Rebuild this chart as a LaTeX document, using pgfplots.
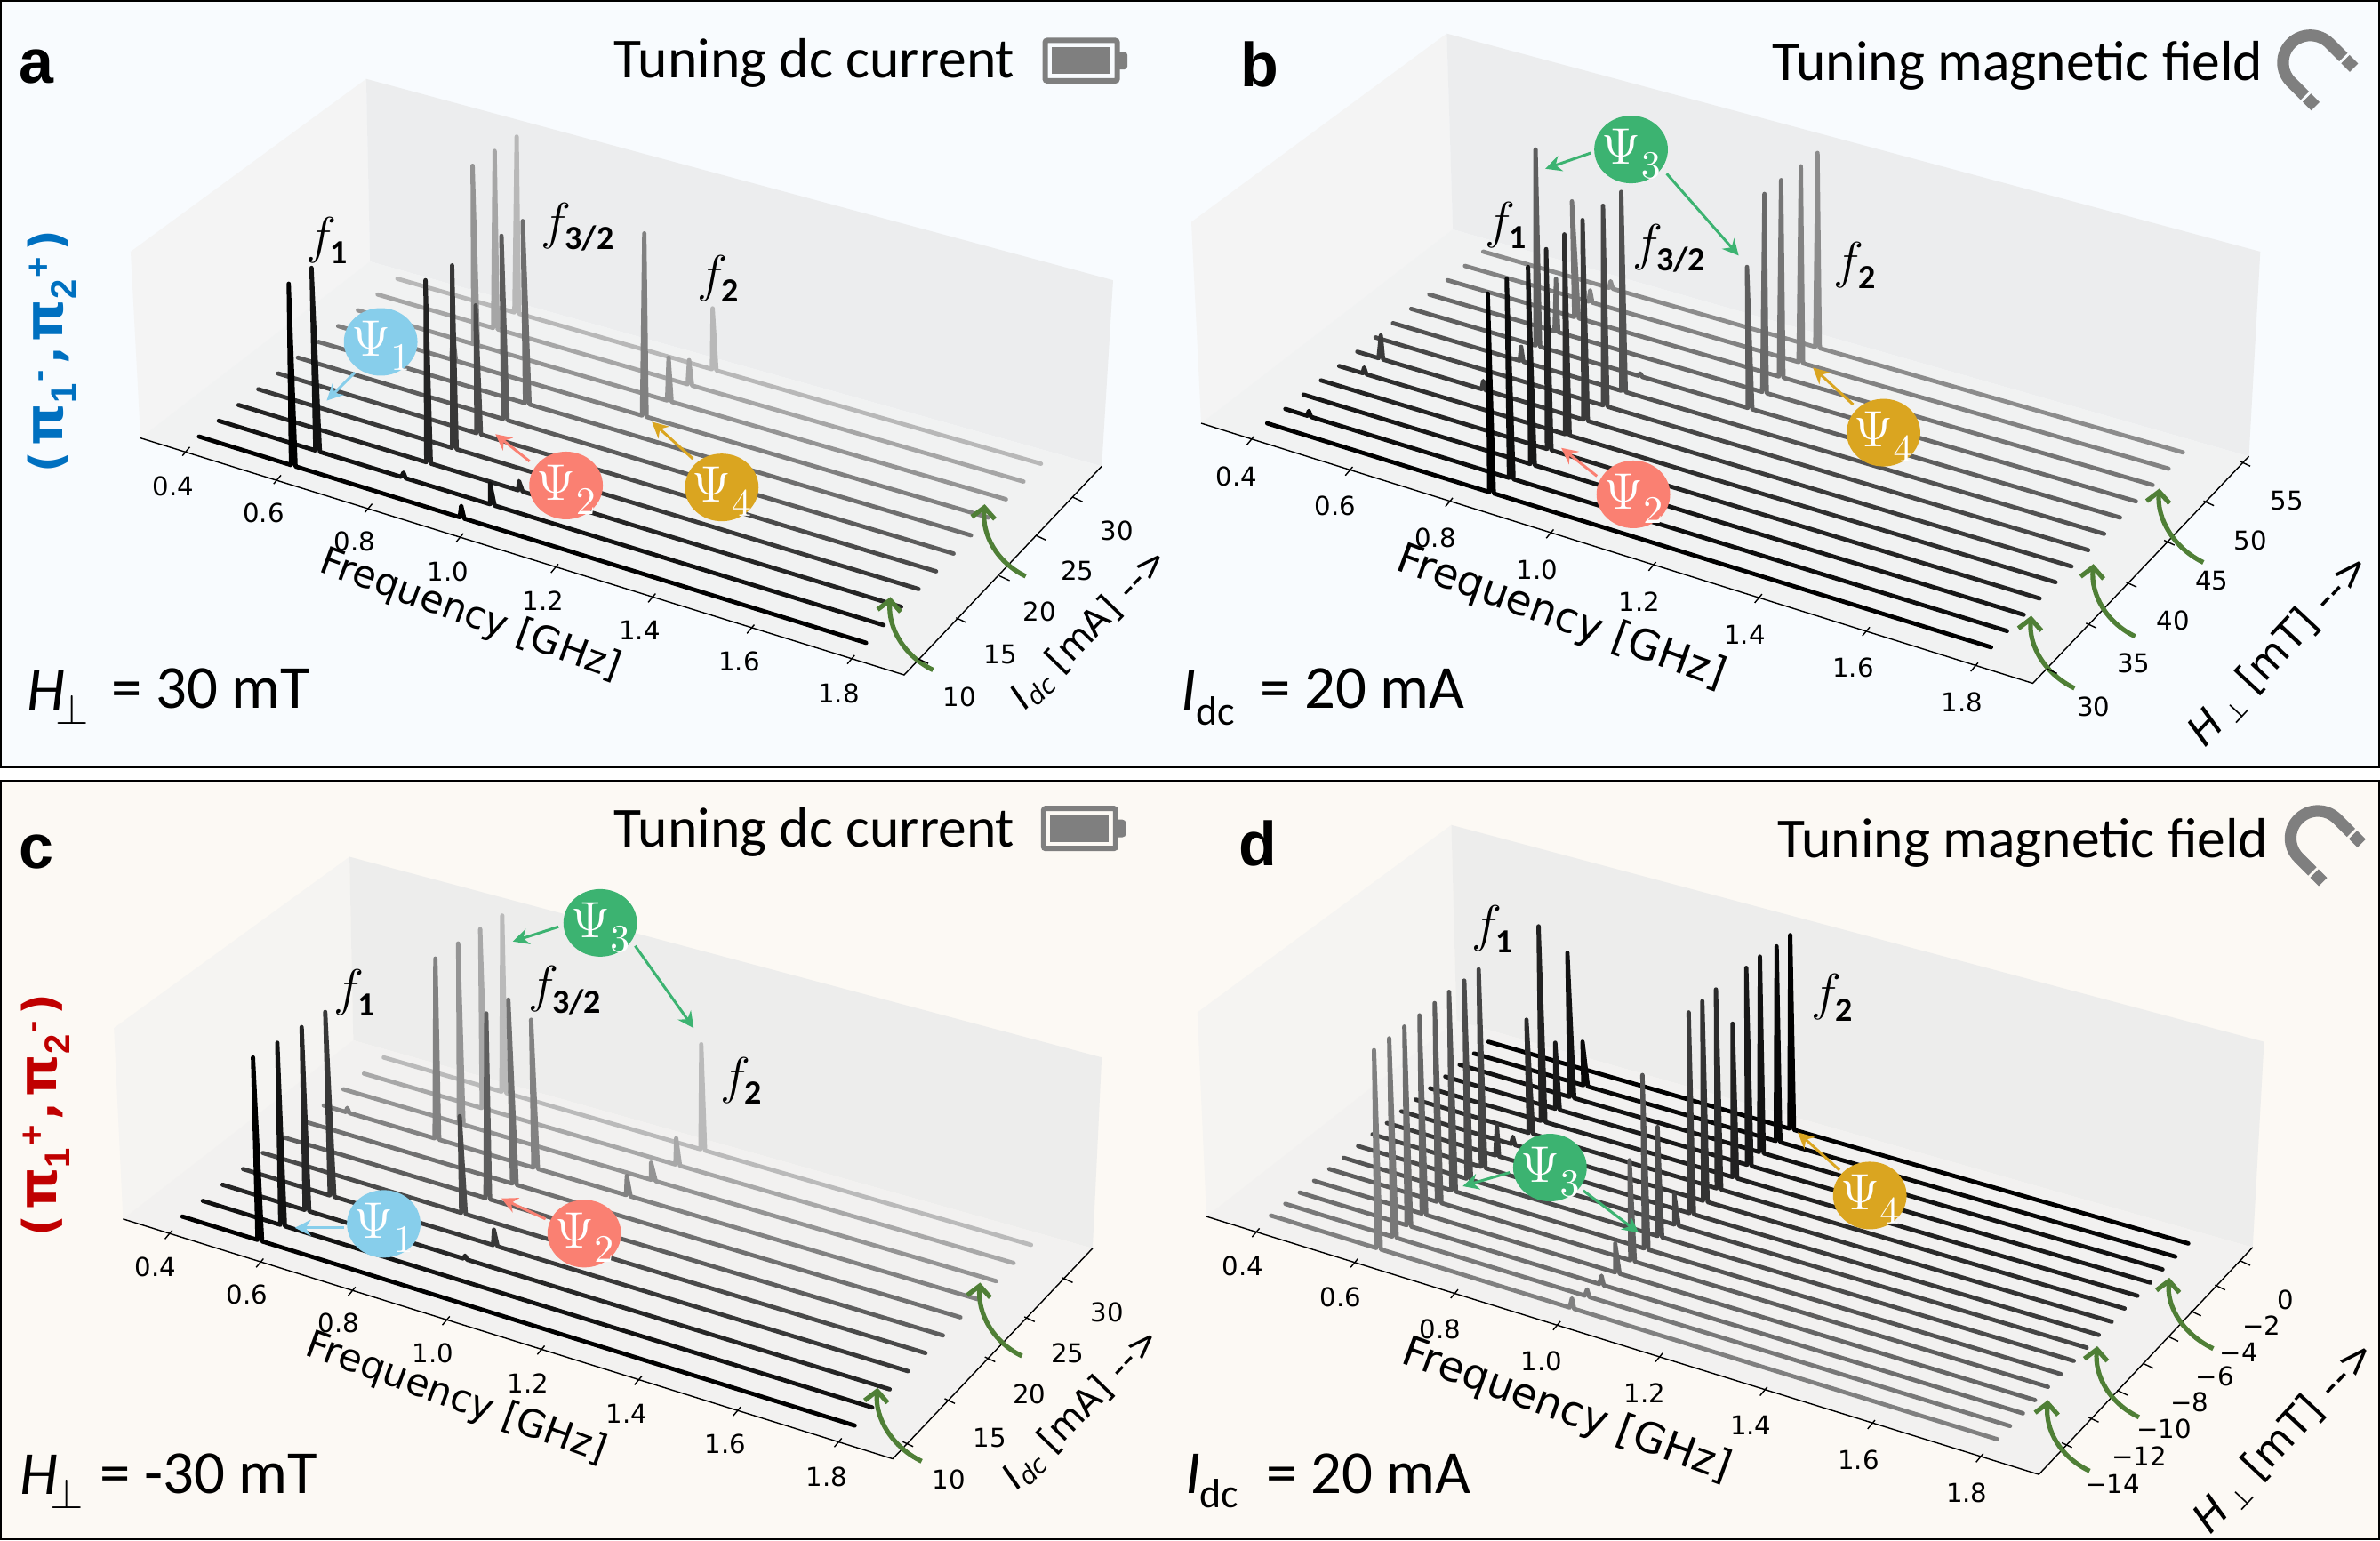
\documentclass[border=0pt]{standalone}
\usepackage{fontspec}
\usepackage{pgfplots}
\pgfplotsset{compat=1.18}
\usetikzlibrary{arrows.meta,shapes.geometric}
\setmainfont{Carlito}
\newfontfamily\dvs{DejaVu Sans}
\newfontfamily\lib{Liberation Sans}

\definecolor{topbg}{HTML}{F8FBFE}
\definecolor{botbg}{HTML}{FCF9F4}
\definecolor{skyb}{HTML}{87CEEB}
\definecolor{salm}{HTML}{FA8072}
\definecolor{seag}{HTML}{3CB371}
\definecolor{gold}{HTML}{DAA520}
\definecolor{leaf}{HTML}{4F7F36}
\definecolor{icon}{HTML}{7F7F7F}
\definecolor{sideb}{HTML}{0070C0}
\definecolor{sider}{HTML}{C00000}
\definecolor{wallL}{HTML}{F4F4F4}
\definecolor{wallB}{HTML}{ECEDEE}
\definecolor{wallF}{HTML}{F1F2F2}
\definecolor{wallLc}{HTML}{F5F4F2}
\definecolor{wallBc}{HTML}{EDEDEC}
\definecolor{wallFc}{HTML}{F2F1F0}

% each trace is a straight baseline on the floor; y=0 in a table row means "on the baseline"
\newcommand\base[4]{\def\xa{#1}\def\ya{#2}\def\xb{#3}\def\yb{#4}}
\pgfplotsset{
  table/row sep=\\,
  table/y expr={ifthenelse(\thisrow{y}==0,\ya+(\yb-\ya)*((\thisrow{x}-\xa)/(\xb-\xa)),\thisrow{y})},
  tr/.style={no markers,line width=1.2pt,line join=round,line cap=round,color=black!#1},
  pane/.style={draw=none,fill=#1,no markers},
  edge/.style={black,line width=.35pt,no markers},
  xtk/.style={only marks,mark=-,mark size=1.6pt,mark options={rotate=50,line width=.35pt,black}},
  ytk/.style={only marks,mark=-,mark size=1.6pt,mark options={rotate=-25,line width=.35pt,black}},
  quad/.style={hide axis,scale only axis,clip=false,anchor=south west,
    xmin=0,xmax=1568,ymin=0,ymax=1568,y dir=reverse},
}
\newcommand\tkf{\dvs\fontsize{7.3}{8}\selectfont}
\newcommand\tl[3]{\node[font=\tkf,inner sep=0] at (axis cs:#1,#2) {#3};}
\newcommand\arr[5]{\draw[-{Stealth[length=4.5pt,width=4.5pt]},line width=.75pt,#1] (axis cs:#2,#3) -- (axis cs:#4,#5);}
\newcommand\garr[4]{\draw[-{Straight Barb[length=3pt,width=6.5pt]},line width=1.3pt,leaf]
  (axis cs:#1,#2) .. controls (axis cs:#1-38,#2-28) and (axis cs:#3-4,#4+62) .. (axis cs:#3,#4);}
\newcommand\psib[4]{\node[ellipse,fill=#3,minimum width=20.7pt,minimum height=19pt,inner sep=0] at (axis cs:#1,#2) {};
  \node[text=white,inner sep=0] at (axis cs:#1-13,#2-6) {\fontsize{14.4}{16}\selectfont$\Psi$};
  \node[text=white,inner sep=0] at (axis cs:#1+26,#2+33) {\fontsize{10.95}{12}\selectfont$#4$};}
\newcommand\ffl[3]{\node[inner sep=0] at (axis cs:#1,#2) {\fontsize{14.4}{16}\selectfont$f$\kern-.12em\raisebox{-.45ex}{\fontsize{9.5}{10}\selectfont\bfseries #3}};}
\newcommand\tit[3]{\node[inner sep=0] at (axis cs:#1,#2+8) {\fontsize{15.9}{18}\selectfont #3};}
\newcommand\freq[3]{\node[font=\dvs\fontsize{#3}{12}\selectfont,rotate=-20,inner sep=0] at (axis cs:#1,#2) {Frequency [GHz]};}
\newcommand\idc[2]{\node[font=\dvs\fontsize{10.2}{11}\selectfont,rotate=46,inner sep=0] at (axis cs:#1,#2) {{\itshape I\raisebox{-.3ex}{\scriptsize dc}} [mA] -->};}
\newcommand\hperp[2]{\node[font=\dvs\fontsize{11.5}{12}\selectfont,rotate=47,inner sep=0] at (axis cs:#1,#2) {{\itshape H\,\raisebox{-.3ex}{\scriptsize ⊥}} [mT] -->};}
\newcommand\plab[3]{\node[inner sep=0,font=\lib\bfseries\fontsize{17.5}{19}\selectfont] at (axis cs:#1,#2) {#3};}
\newcommand\batt[2]{\fill[icon,rounded corners=1pt] (axis cs:#1+100,#2+31) rectangle (axis cs:#1+115,#2+67);
  \draw[icon,line width=1.5pt,rounded corners=.6pt] (axis cs:#1+6.5,#2+8) rectangle (axis cs:#1+101.5,#2+90);
  \fill[icon] (axis cs:#1+15,#2+22) rectangle (axis cs:#1+92,#2+76);}
\newcommand\magnet[2]{\begin{scope}[shift={(axis cs:#1,#2)},rotate=-45]
  \draw[icon,line width=3.3pt] (5.5pt,7.67pt) -- (0pt,7.67pt) arc (90:270:7.67pt) -- (5.5pt,-7.67pt);
  \draw[icon,line width=3.3pt] (6.3pt,7.67pt) -- (9.7pt,7.67pt);
  \draw[icon,line width=3.3pt] (6.3pt,-7.67pt) -- (9.7pt,-7.67pt);
  \end{scope}}
% the rotated (pi_1, pi_2) label at the left of the rows
\newcommand\sidepi[2]{{\fontsize{15}{17}\selectfont π}{\lib\fontsize{10}{11}\selectfont\raisebox{-3.6pt}{#1}\kern.6pt\raisebox{3.6pt}{#2}}}
\newcommand\sidelab[4]{\node[rotate=90,inner sep=0,text=#1] at (axis cs:#2,#3) {\dvs\bfseries #4};}

\begin{document}
\begin{tikzpicture}[x=1pt,y=1pt]
\path[use as bounding box] (0,0) rectangle (669.25,433.25);
\fill[topbg,draw=black,line width=.5pt] (.25,217.5) rectangle (669,433);
\fill[botbg,draw=black,line width=.5pt] (.25,.5) rectangle (669,213.75);

% panel a
\begin{axis}[quad,at={(0pt,215.75pt)},width=335pt,height=217.5pt]
\addplot[pane=wallL] coordinates {(172,510)(482,160)(487,530)(185,888)};
\addplot[pane=wallB] coordinates {(482,160)(1465,568)(1450,945)(487,530)};
\addplot[pane=wallF] coordinates {(185,888)(487,530)(1450,945)(1190,1368)};
\addplot[edge] coordinates {(185,888)(1190,1368)(1450,945)};
\addplot[xtk] coordinates {(245,915)(365,972)(485,1030)(605,1090)(730,1152)(858,1212)(988,1275)(1120,1337)};
\addplot[ytk] coordinates {(1215,1340)(1265,1257)(1322,1172)(1370,1090)(1418,1012)};
\base{523}{565}{1370}{940}\addplot[tr=28] table {x y\\523 0\\677 0\\680 277\\683 0\\937 0\\938 625\\943 0\\1370 0\\};
\base{497}{597}{1347}{976}\addplot[tr=35] table {x y\\497 0\\649 0\\651 306\\655 0\\905 0\\907 730\\911 0\\1347 0\\};
\base{471}{629}{1324}{1012}\addplot[tr=42] table {x y\\471 0\\623 0\\622 336\\629 0\\878 0\\880 725\\884 0\\1324 0\\};
\base{445}{661}{1301}{1049}\addplot[tr=50] table {x y\\445 0\\594 0\\596 676\\600 0\\845 0\\848 473\\851 0\\1301 0\\};
\base{419}{693}{1278}{1085}\addplot[tr=57] table {x y\\419 0\\691 0\\688 448\\697 0\\1278 0\\};
\base{392}{725}{1255}{1122}\addplot[tr=64] table {x y\\392 0\\662 0\\660 478\\668 0\\1255 0\\};
\base{366}{757}{1232}{1158}\addplot[tr=71] table {x y\\366 0\\627 0\\626 619\\633 0\\1232 0\\};
\base{340}{789}{1209}{1194}\addplot[tr=78] table {x y\\340 0\\595 0\\595 538\\601 0\\1209 0\\};
\base{314}{821}{1186}{1230}\addplot[tr=86] table {x y\\314 0\\561 0\\560 568\\567 0\\682 0\\683 975\\688 0\\1186 0\\};
\base{288}{853}{1163}{1267}\addplot[tr=93] table {x y\\288 0\\415 0\\410 543\\421 0\\528 0\\531 958\\534 0\\645 0\\645 980\\651 0\\1163 0\\};
\base{262}{885}{1140}{1303}\addplot[tr=100] table {x y\\262 0\\383 0\\380 575\\389 0\\605 0\\607 1025\\611 0\\1140 0\\};
\tl{228}{985}{0.4}\tl{347}{1040}{0.6}\tl{467}{1098}{0.8}\tl{590}{1158}{1.0}\tl{715}{1218}{1.2}\tl{842}{1278}{1.4}\tl{973}{1340}{1.6}\tl{1104}{1405}{1.8}
\tl{1263}{1413}{10}\tl{1317}{1327}{15}\tl{1368}{1240}{20}\tl{1418}{1157}{25}\tl{1470}{1075}{30}
\freq{619}{1248}{10.7}\idc{1435}{1275}
\garr{1228}{1358}{1172}{1210}\garr{1350}{1168}{1296}{1022}
\arr{skyb}{467}{755}{430}{812}\arr{salm}{697}{935}{652}{880}\arr{gold}{912}{930}{858}{855}
\psib{501}{693}{skyb}{1}\psib{745}{984}{salm}{2}\psib{950}{988}{gold}{4}
\ffl{430}{487}{1}\ffl{760}{460}{3/2}\ffl{945}{565}{2}
\plab{48}{135}{a}\tit{1072}{120}{Tuning dc current}\batt{1369}{74}
\node[inner sep=0,anchor=west] at (axis cs:35,1400) {\fontsize{17.2}{18}\selectfont\itshape H};
\node[inner sep=0] at (axis cs:95,1438) {\fontsize{12}{13}\selectfont$\perp$};
\node[inner sep=0,anchor=west] at (axis cs:146,1395) {\fontsize{17.2}{18}\selectfont = 30 mT};
\sidelab{sideb}{68}{712}{\fontsize{13}{15}\selectfont(\kern1.5pt\sidepi{1}{-}\kern1.5pt,\kern1.5pt\sidepi{2}{+}\kern1.5pt)}
\end{axis}

% panel b
\begin{axis}[quad,at={(335pt,215.75pt)},width=334.25pt,height=217.5pt]
\addplot[pane=wallL] coordinates {(0,450)(337,68)(345,465)(13,858)};
\addplot[pane=wallB] coordinates {(337,68)(1410,510)(1395,925)(345,465)};
\addplot[pane=wallF] coordinates {(13,858)(345,465)(1395,925)(1110,1385)};
\addplot[edge] coordinates {(13,858)(1110,1385)(1395,925)};
\addplot[xtk] coordinates {(78,893)(208,955)(340,1018)(473,1082)(608,1148)(748,1213)(890,1280)(1033,1352)};
\addplot[ytk] coordinates {(1135,1360)(1187,1268)(1240,1185)(1290,1100)(1342,1020)(1390,940)};
\base{385}{510}{1308}{917}\addplot[tr=45] table {x y\\385 0\\551 0\\553 570\\556 0\\823 0\\826 310\\829 0\\1308 0\\};
\base{361}{539}{1289}{950}\addplot[tr=49] table {x y\\361 0\\524 0\\526 589\\529 0\\801 0\\804 337\\807 0\\1289 0\\};
\base{338}{568}{1268}{983}\addplot[tr=54] table {x y\\338 0\\505 0\\502 408\\511 0\\775 0\\778 365\\781 0\\1268 0\\};
\base{314}{597}{1246}{1016}\addplot[tr=59] table {x y\\314 0\\479 0\\481 565\\484 0\\753 0\\756 393\\759 0\\1246 0\\};
\base{290}{626}{1225}{1049}\addplot[tr=63] table {x y\\290 0\\454 0\\454 303\\460 0\\590 0\\592 757\\595 0\\734 0\\733 541\\740 0\\1225 0\\};
\base{266}{655}{1204}{1082}\addplot[tr=68] table {x y\\266 0\\433 0\\435 703\\438 0\\567 0\\567 389\\573 0\\1204 0\\};
\base{243}{684}{1183}{1115}\addplot[tr=72] table {x y\\243 0\\543 0\\543 417\\549 0\\1183 0\\};
\base{219}{713}{1161}{1148}\addplot[tr=77] table {x y\\219 0\\247 0\\250 680\\253 0\\383 0\\385 772\\388 0\\517 0\\516 446\\523 0\\1161 0\\};
\base{195}{742}{1140}{1180}\addplot[tr=82] table {x y\\195 0\\226 0\\228 745\\231 0\\493 0\\492 475\\499 0\\1140 0\\};
\base{171}{771}{1119}{1213}\addplot[tr=86] table {x y\\171 0\\469 0\\468 505\\475 0\\1119 0\\};
\base{148}{800}{1098}{1246}\addplot[tr=91] table {x y\\148 0\\447 0\\444 541\\453 0\\1098 0\\};
\base{124}{829}{1076}{1279}\addplot[tr=95] table {x y\\124 0\\153 0\\155 833\\158 0\\419 0\\416 565\\425 0\\1076 0\\};
\base{100}{858}{1055}{1312}\addplot[tr=100] table {x y\\100 0\\393 0\\391 595\\399 0\\1055 0\\};
\tl{60}{965}{0.4}\tl{190}{1025}{0.6}\tl{322}{1090}{0.8}\tl{456}{1155}{1.0}\tl{591}{1220}{1.2}\tl{730}{1287}{1.4}\tl{873}{1353}{1.6}\tl{1017}{1423}{1.8}
\tl{1190}{1432}{30}\tl{1243}{1345}{35}\tl{1295}{1258}{40}\tl{1346}{1177}{45}\tl{1397}{1095}{50}\tl{1445}{1015}{55}
\freq{488}{1253}{11.7}\hperp{1436}{1317}
\garr{1165}{1395}{1108}{1248}\garr{1245}{1290}{1190}{1143}\garr{1335}{1140}{1277}{990}
\arr{seag}{527}{310}{467}{342}\arr{seag}{627}{352}{722}{518}\arr{salm}{535}{965}{488}{908}\arr{gold}{873}{820}{820}{745}
\psib{580}{303}{seag}{3}\psib{583}{1002}{salm}{2}\psib{913}{877}{gold}{4}
\ffl{415}{457}{1}\ffl{630}{503}{3/2}\ffl{875}{538}{2}
\plab{90}{130}{b}\tit{1090}{125}{Tuning magnetic field}\magnet{1476}{127}
\node[inner sep=0,anchor=west] at (axis cs:-14,1400) {\fontsize{17.2}{18}\selectfont\itshape I};
\node[inner sep=0,anchor=west] at (axis cs:5,1442) {\fontsize{11.5}{13}\selectfont dc};
\node[inner sep=0,anchor=west] at (axis cs:90,1395) {\fontsize{17.2}{18}\selectfont = 20 mA};
\end{axis}

% panel c
\begin{axis}[quad,at={(0pt,0pt)},width=335pt,height=215.75pt]
\addplot[pane=wallLc] coordinates {(150,520)(460,170)(465,545)(162,910)};
\addplot[pane=wallBc] coordinates {(460,170)(1450,580)(1438,970)(465,545)};
\addplot[pane=wallFc] coordinates {(162,910)(465,545)(1438,970)(1175,1400)};
\addplot[edge] coordinates {(162,910)(1175,1400)(1438,970)};
\addplot[xtk] coordinates {(222,942)(342,1000)(463,1058)(587,1118)(712,1178)(840,1240)(970,1303)(1103,1367)};
\addplot[ytk] coordinates {(1195,1370)(1250,1282)(1303,1197)(1355,1115)(1405,1035)};
\base{505}{580}{1357}{963}\addplot[tr=27] table {x y\\505 0\\660 0\\661 290\\666 0\\922 0\\923 553\\928 0\\1357 0\\};
\base{479}{613}{1334}{1000}\addplot[tr=34] table {x y\\479 0\\634 0\\632 318\\640 0\\889 0\\890 745\\895 0\\1334 0\\};
\base{452}{645}{1311}{1037}\addplot[tr=42] table {x y\\452 0\\604 0\\603 347\\610 0\\857 0\\857 795\\863 0\\1311 0\\};
\base{426}{678}{1287}{1074}\addplot[tr=49] table {x y\\426 0\\455 0\\457 683\\460 0\\572 0\\573 378\\578 0\\702 0\\699 503\\708 0\\824 0\\825 822\\830 0\\1287 0\\};
\base{399}{710}{1264}{1111}\addplot[tr=56] table {x y\\399 0\\674 0\\669 462\\680 0\\1264 0\\};
\base{373}{743}{1241}{1148}\addplot[tr=63] table {x y\\373 0\\639 0\\640 490\\645 0\\1241 0\\};
\base{346}{775}{1218}{1184}\addplot[tr=71] table {x y\\346 0\\607 0\\605 700\\613 0\\1218 0\\};
\base{320}{808}{1195}{1221}\addplot[tr=78] table {x y\\320 0\\434 0\\428 487\\440 0\\649 0\\650 932\\655 0\\1195 0\\};
\base{293}{840}{1171}{1258}\addplot[tr=85] table {x y\\293 0\\401 0\\397 518\\407 0\\610 0\\612 985\\615 0\\1171 0\\};
\base{267}{873}{1148}{1295}\addplot[tr=93] table {x y\\267 0\\369 0\\365 550\\375 0\\1148 0\\};
\base{240}{905}{1125}{1332}\addplot[tr=100] table {x y\\240 0\\339 0\\333 580\\345 0\\1125 0\\};
\tl{205}{1008}{0.4}\tl{325}{1065}{0.6}\tl{446}{1123}{0.8}\tl{570}{1185}{1.0}\tl{695}{1245}{1.2}\tl{825}{1307}{1.4}\tl{955}{1370}{1.6}\tl{1088}{1437}{1.8}
\tl{1249}{1443}{10}\tl{1303}{1357}{15}\tl{1355}{1268}{20}\tl{1405}{1185}{25}\tl{1457}{1100}{30}
\freq{600}{1278}{10.7}\idc{1424}{1298}
\garr{1213}{1405}{1155}{1255}\garr{1345}{1190}{1290}{1040}
\arr{seag}{735}{313}{675}{343}\arr{seag}{836}{352}{913}{520}\arr{salm}{718}{910}{660}{868}\arr{skyb}{453}{928}{388}{928}
\psib{790}{305}{seag}{3}\psib{769}{940}{salm}{2}\psib{505}{920}{skyb}{1}
\ffl{467}{448}{1}\ffl{743}{443}{3/2}\ffl{975}{628}{2}
\plab{48}{160}{c}\tit{1072}{112}{Tuning dc current}\batt{1367}{63}
\node[inner sep=0,anchor=west] at (axis cs:25,1433) {\fontsize{17.2}{18}\selectfont\itshape H};
\node[inner sep=0] at (axis cs:88,1471) {\fontsize{12}{13}\selectfont$\perp$};
\node[inner sep=0,anchor=west] at (axis cs:131,1430) {\fontsize{17.2}{18}\selectfont = -30 mT};
\sidelab{sider}{60}{698}{\fontsize{13}{15}\selectfont(\kern1.5pt\sidepi{1}{+}\kern1.5pt,\kern1.5pt\sidepi{2}{-}\kern1.5pt)}
\end{axis}

% panel d
\begin{axis}[quad,at={(335pt,0pt)},width=334.25pt,height=215.75pt]
\addplot[pane=wallLc] coordinates {(8,488)(343,105)(350,505)(20,905)};
\addplot[pane=wallBc] coordinates {(343,105)(1415,548)(1400,968)(350,505)};
\addplot[pane=wallFc] coordinates {(20,905)(350,505)(1400,968)(1118,1432)};
\addplot[edge] coordinates {(20,905)(1118,1432)(1400,968)};
\addplot[xtk] coordinates {(85,938)(215,1000)(347,1063)(482,1128)(617,1193)(755,1262)(897,1330)(1040,1398)};
\addplot[ytk] coordinates {(1155,1372)(1190,1320)(1228,1265)(1262,1210)(1295,1155)(1325,1103)(1357,1050)(1390,1000)};
\base{392}{548}{1315}{960}\addplot[tr=100] table {x y\\392 0\\789 0\\790 330\\795 0\\1315 0\\};
\base{373}{572}{1298}{987}\addplot[tr=97] table {x y\\373 0\\517 0\\516 548\\523 0\\771 0\\772 353\\777 0\\1298 0\\};
\base{354}{595}{1281}{1013}\addplot[tr=93] table {x y\\354 0\\499 0\\496 366\\505 0\\749 0\\750 374\\755 0\\1281 0\\};
\base{335}{619}{1265}{1040}\addplot[tr=90] table {x y\\335 0\\480 0\\480 550\\486 0\\733 0\\732 397\\739 0\\1265 0\\};
\base{315}{643}{1248}{1067}\addplot[tr=87] table {x y\\315 0\\461 0\\458 312\\467 0\\714 0\\714 511\\720 0\\1248 0\\};
\base{296}{666}{1231}{1093}\addplot[tr=83] table {x y\\296 0\\445 0\\442 503\\451 0\\693 0\\692 441\\699 0\\1231 0\\};
\base{277}{690}{1214}{1120}\addplot[tr=80] table {x y\\277 0\\422 0\\424 742\\427 0\\675 0\\674 465\\681 0\\1214 0\\};
\base{258}{714}{1197}{1147}\addplot[tr=77] table {x y\\258 0\\401 0\\403 718\\406 0\\657 0\\656 488\\663 0\\1197 0\\};
\base{239}{737}{1181}{1173}\addplot[tr=73] table {x y\\239 0\\382 0\\379 400\\388 0\\637 0\\637 860\\643 0\\1181 0\\};
\base{220}{761}{1164}{1200}\addplot[tr=70] table {x y\\220 0\\363 0\\360 423\\369 0\\615 0\\615 722\\621 0\\1164 0\\};
\base{201}{785}{1147}{1227}\addplot[tr=67] table {x y\\201 0\\343 0\\340 446\\349 0\\597 0\\595 616\\603 0\\1147 0\\};
\base{182}{808}{1130}{1253}\addplot[tr=63] table {x y\\182 0\\324 0\\321 469\\330 0\\579 0\\578 790\\585 0\\1130 0\\};
\base{162}{832}{1113}{1280}\addplot[tr=60] table {x y\\162 0\\304 0\\301 494\\310 0\\559 0\\559 960\\565 0\\1113 0\\};
\base{143}{856}{1097}{1307}\addplot[tr=57] table {x y\\143 0\\284 0\\281 517\\290 0\\538 0\\541 1026\\544 0\\1097 0\\};
\base{124}{879}{1080}{1333}\addplot[tr=53] table {x y\\124 0\\265 0\\261 541\\271 0\\519 0\\522 1054\\525 0\\1080 0\\};
\base{105}{903}{1063}{1360}\addplot[tr=50] table {x y\\105 0\\244 0\\241 565\\250 0\\499 0\\502 1072\\505 0\\1063 0\\};
\tl{68}{1007}{0.4}\tl{197}{1070}{0.6}\tl{328}{1135}{0.8}\tl{462}{1200}{1.0}\tl{598}{1265}{1.2}\tl{738}{1332}{1.4}\tl{880}{1402}{1.6}\tl{1023}{1470}{1.8}
\tl{1215}{1452}{−14}\tl{1250}{1395}{−12}\tl{1283}{1338}{−10}\tl{1317}{1285}{−8}\tl{1350}{1232}{−6}\tl{1382}{1182}{−4}\tl{1412}{1127}{−2}\tl{1443}{1075}{0}
\freq{495}{1303}{11.7}\hperp{1443}{1355}
\garr{1185}{1425}{1130}{1280}\garr{1250}{1315}{1195}{1170}\garr{1348}{1175}{1290}{1030}
\arr{seag}{420}{815}{358}{843}\arr{seag}{517}{852}{590}{938}\arr{gold}{855}{810}{800}{733}
\psib{473}{805}{seag}{3}\psib{895}{862}{gold}{4}
\ffl{397}{318}{1}\ffl{845}{458}{2}
\plab{88}{142}{d}\tit{1097}{133}{Tuning magnetic field}\magnet{1486}{132}
\node[inner sep=0,anchor=west] at (axis cs:-8,1430) {\fontsize{17.2}{18}\selectfont\itshape I};
\node[inner sep=0,anchor=west] at (axis cs:10,1472) {\fontsize{11.5}{13}\selectfont dc};
\node[inner sep=0,anchor=west] at (axis cs:98,1430) {\fontsize{17.2}{18}\selectfont = 20 mA};
\end{axis}
\end{tikzpicture}
\end{document}
